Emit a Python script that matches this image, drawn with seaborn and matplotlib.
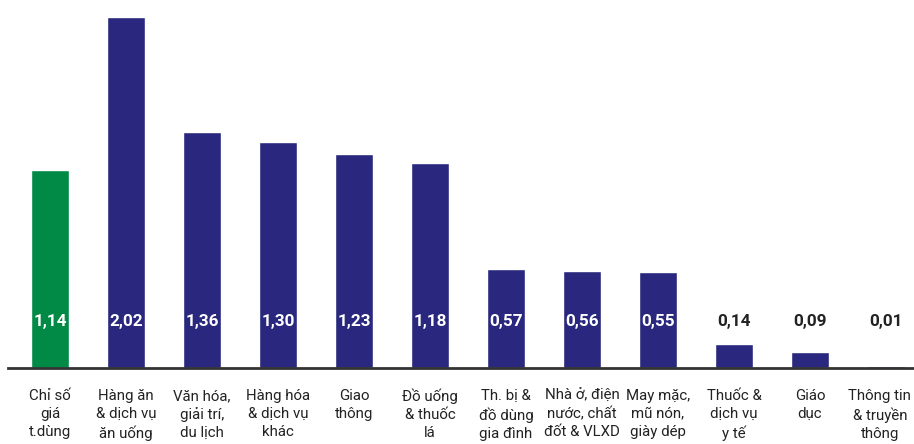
import matplotlib
matplotlib.use("Agg")
import matplotlib.pyplot as plt
import matplotlib.transforms as mtransforms
import seaborn as sns
import pandas as pd

categories = [
    "Chỉ số\ngiá\nt.dùng",
    "Hàng ăn\n& dịch vụ\năn uống",
    "Văn hóa,\ngiải trí,\ndu lịch",
    "Hàng hóa\n& dịch vụ\nkhác",
    "Giao\nthông",
    "Đồ uống\n& thuốc\nlá",
    "Th. bị &\nđồ dùng\ngia đình",
    "Nhà ở, điện\nnước, chất\nđốt & VLXD",
    "May mặc,\nmũ nón,\ngiày dép",
    "Thuốc &\ndịch vụ\ny tế",
    "Giáo\ndục",
    "Thông tin\n& truyền\nthông",
]
values = [1.14, 2.02, 1.36, 1.30, 1.23, 1.18, 0.57, 0.56, 0.55, 0.14, 0.09, 0.01]
value_labels = ["1,14", "2,02", "1,36", "1,30", "1,23", "1,18", "0,57", "0,56", "0,55", "0,14", "0,09", "0,01"]

GREEN = "#008a46"
INDIGO = "#29287e"
colors = [GREEN] + [INDIGO] * (len(values) - 1)

sns.set_theme(style="white")
plt.rcParams["font.family"] = ["Roboto", "DejaVu Sans"]

df = pd.DataFrame({"cat": categories, "val": values})

fig = plt.figure(figsize=(9.14, 4.44), dpi=100)
ax = fig.add_axes([8 / 914, 1 - 368 / 444, 906 / 914, 368 / 444])
sns.barplot(data=df, x="cat", y="val", hue="cat", palette=colors, legend=False,
            width=0.5, saturation=1, ax=ax, order=categories)

ax.set_xlim(-0.5526, 11.37)
ax.set_ylim(0, 2.117)

for i, (v, lab) in enumerate(zip(values, value_labels)):
    col = "white" if v > 0.35 else "#222222"
    ax.text(i, 0.27, lab, ha="center", va="center", color=col,
            fontsize=12.3, fontweight="bold")

ax.set_xlabel("")
ax.set_ylabel("")
ax.set_yticks([])
ax.set_xticks(range(len(categories)))
ax.set_xticklabels(categories, fontsize=10.8, color="#222222", linespacing=1.36)
ax.tick_params(axis="x", length=0, pad=15)
# keep the last (right-edge) label inside the figure
last = ax.get_xticklabels()[-1]
last.set_transform(last.get_transform() + mtransforms.ScaledTranslation(-6 / 100, 0, fig.dpi_scale_trans))
for s in ["top", "right", "left"]:
    ax.spines[s].set_visible(False)
ax.spines["bottom"].set_color("#333333")
ax.spines["bottom"].set_linewidth(2)

fig.savefig("out.png", dpi=100)
